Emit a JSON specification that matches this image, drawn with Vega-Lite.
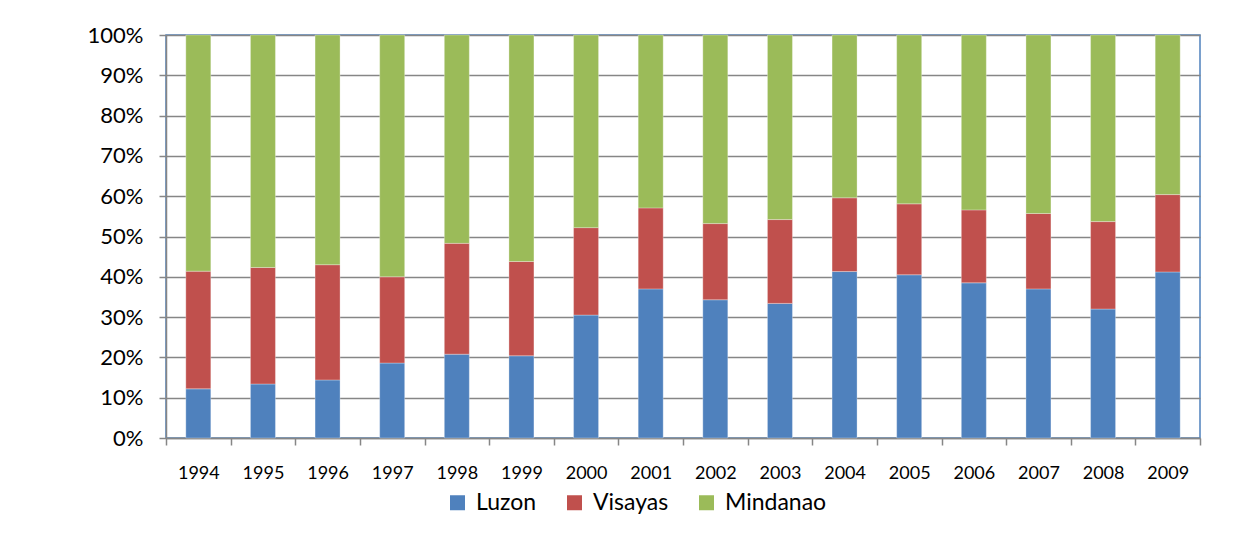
{
  "$schema": "https://vega.github.io/schema/vega-lite/v6.json",
  "width": 1034,
  "height": 403,
  "autosize": {"type": "none"},
  "padding": {"left": 166, "top": 35, "right": 50, "bottom": 103},
  "background": "white",
  "data": {
    "values": [
      {"year": "1994", "region": "Luzon", "ord": 1, "v": 12.2},
      {"year": "1994", "region": "Visayas", "ord": 2, "v": 29.2},
      {"year": "1994", "region": "Mindanao", "ord": 3, "v": 58.6},
      {"year": "1995", "region": "Luzon", "ord": 1, "v": 13.4},
      {"year": "1995", "region": "Visayas", "ord": 2, "v": 28.9},
      {"year": "1995", "region": "Mindanao", "ord": 3, "v": 57.7},
      {"year": "1996", "region": "Luzon", "ord": 1, "v": 14.4},
      {"year": "1996", "region": "Visayas", "ord": 2, "v": 28.6},
      {"year": "1996", "region": "Mindanao", "ord": 3, "v": 57.0},
      {"year": "1997", "region": "Luzon", "ord": 1, "v": 18.6},
      {"year": "1997", "region": "Visayas", "ord": 2, "v": 21.4},
      {"year": "1997", "region": "Mindanao", "ord": 3, "v": 60.0},
      {"year": "1998", "region": "Luzon", "ord": 1, "v": 20.8},
      {"year": "1998", "region": "Visayas", "ord": 2, "v": 27.5},
      {"year": "1998", "region": "Mindanao", "ord": 3, "v": 51.7},
      {"year": "1999", "region": "Luzon", "ord": 1, "v": 20.4},
      {"year": "1999", "region": "Visayas", "ord": 2, "v": 23.4},
      {"year": "1999", "region": "Mindanao", "ord": 3, "v": 56.2},
      {"year": "2000", "region": "Luzon", "ord": 1, "v": 30.5},
      {"year": "2000", "region": "Visayas", "ord": 2, "v": 21.7},
      {"year": "2000", "region": "Mindanao", "ord": 3, "v": 47.8},
      {"year": "2001", "region": "Luzon", "ord": 1, "v": 37.0},
      {"year": "2001", "region": "Visayas", "ord": 2, "v": 20.1},
      {"year": "2001", "region": "Mindanao", "ord": 3, "v": 42.9},
      {"year": "2002", "region": "Luzon", "ord": 1, "v": 34.3},
      {"year": "2002", "region": "Visayas", "ord": 2, "v": 18.9},
      {"year": "2002", "region": "Mindanao", "ord": 3, "v": 46.8},
      {"year": "2003", "region": "Luzon", "ord": 1, "v": 33.4},
      {"year": "2003", "region": "Visayas", "ord": 2, "v": 20.8},
      {"year": "2003", "region": "Mindanao", "ord": 3, "v": 45.8},
      {"year": "2004", "region": "Luzon", "ord": 1, "v": 41.3},
      {"year": "2004", "region": "Visayas", "ord": 2, "v": 18.3},
      {"year": "2004", "region": "Mindanao", "ord": 3, "v": 40.4},
      {"year": "2005", "region": "Luzon", "ord": 1, "v": 40.5},
      {"year": "2005", "region": "Visayas", "ord": 2, "v": 17.6},
      {"year": "2005", "region": "Mindanao", "ord": 3, "v": 41.9},
      {"year": "2006", "region": "Luzon", "ord": 1, "v": 38.5},
      {"year": "2006", "region": "Visayas", "ord": 2, "v": 18.1},
      {"year": "2006", "region": "Mindanao", "ord": 3, "v": 43.4},
      {"year": "2007", "region": "Luzon", "ord": 1, "v": 37.0},
      {"year": "2007", "region": "Visayas", "ord": 2, "v": 18.7},
      {"year": "2007", "region": "Mindanao", "ord": 3, "v": 44.3},
      {"year": "2008", "region": "Luzon", "ord": 1, "v": 32.0},
      {"year": "2008", "region": "Visayas", "ord": 2, "v": 21.7},
      {"year": "2008", "region": "Mindanao", "ord": 3, "v": 46.3},
      {"year": "2009", "region": "Luzon", "ord": 1, "v": 41.2},
      {"year": "2009", "region": "Visayas", "ord": 2, "v": 19.2},
      {"year": "2009", "region": "Mindanao", "ord": 3, "v": 39.6}
    ]
  },
  "mark": {"type": "bar", "size": 25, "stroke": "white", "strokeWidth": 0.5, "strokeOpacity": 0.6},
  "encoding": {
    "x": {
      "field": "year",
      "type": "ordinal",
      "scale": {"paddingInner": 0, "paddingOuter": 0},
      "axis": {
        "title": null,
        "labelAngle": 0,
        "tickBand": "extent",
        "grid": false,
        "tickSize": 7,
        "tickColor": "#868686",
        "tickWidth": 1.5,
        "domainColor": "#868686",
        "domainWidth": 1.5,
        "labelFont": "Lato",
        "labelFontSize": 18,
        "labelColor": "black",
        "labelPadding": 19
      }
    },
    "y": {
      "field": "v",
      "type": "quantitative",
      "stack": "normalize",
      "scale": {"domain": [0, 1], "nice": false},
      "axis": {
        "title": null,
        "format": ".0%",
        "values": [0, 0.1, 0.2, 0.3, 0.4, 0.5, 0.6, 0.7, 0.8, 0.9, 1],
        "grid": true,
        "gridColor": "#868686",
        "gridWidth": 1.5,
        "tickSize": 7,
        "tickColor": "#868686",
        "tickWidth": 1.5,
        "domainColor": "#868686",
        "domainWidth": 1.5,
        "labelFont": "Lato",
        "labelFontSize": 22,
        "labelColor": "black",
        "labelPadding": 16
      }
    },
    "color": {
      "field": "region",
      "type": "nominal",
      "scale": {
        "domain": ["Luzon", "Visayas", "Mindanao"],
        "range": ["#4F81BD", "#C0504D", "#9BBB59"]
      },
      "legend": {
        "title": null,
        "orient": "none",
        "direction": "horizontal",
        "legendX": 280,
        "legendY": 456,
        "symbolType": "square",
        "symbolSize": 225,
        "symbolStrokeWidth": 0,
        "labelFont": "Lato",
        "labelFontSize": 23,
        "labelColor": "black",
        "labelOffset": 7,
        "columnPadding": 26,
        "padding": 0
      }
    },
    "order": {"field": "ord", "type": "quantitative", "sort": "ascending"}
  },
  "config": {
    "view": {"stroke": "#4F81BD", "strokeWidth": 1.5}
  }
}
